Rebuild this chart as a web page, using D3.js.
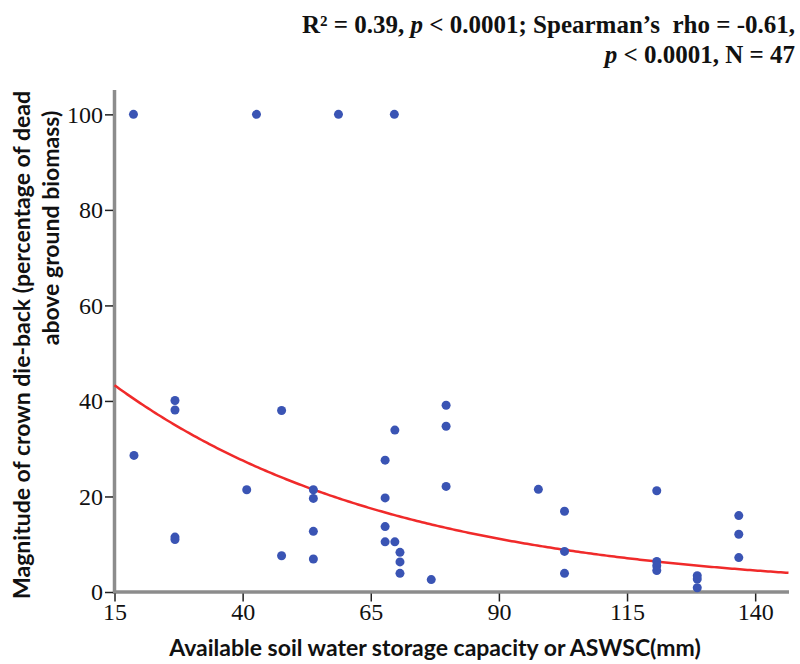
<!DOCTYPE html>
<html>
<head>
<meta charset="utf-8">
<script src="https://cdn.jsdelivr.net/npm/d3@7"></script>
<style>
  body { margin: 0; background: #fff; }
  svg { display: block; }
</style>
</head>
<body>
<svg id="chart" width="800" height="664"></svg>
<script>
// Data
const xValues = [18.7, 42.7, 58.7, 69.6,
  18.8, 26.8, 26.8, 26.8, 26.8, 47.6, 40.8, 53.8, 53.8, 53.8, 53.8, 47.6,
  79.7, 79.7, 69.7, 67.8, 67.8, 67.8, 67.8, 69.7, 70.7, 70.7, 70.7, 76.8, 79.7, 97.7,
  102.8, 102.8, 102.8, 120.8, 120.8, 120.8, 120.8, 128.7, 128.7, 128.7, 136.8, 136.8, 136.8];
const yValues = [100, 100, 100, 100,
  28.6, 40.1, 38.1, 11.5, 11.0, 38.0, 21.4, 21.4, 19.6, 12.7, 6.9, 7.6,
  39.1, 34.7, 33.9, 27.6, 19.7, 13.7, 10.5, 10.5, 8.3, 6.3, 3.9, 2.6, 22.1, 21.5,
  16.9, 8.5, 3.9, 21.2, 6.4, 5.5, 4.5, 3.4, 2.7, 0.9, 16.0, 12.1, 7.2];
const xTicks = [15, 40, 65, 90, 115, 140];
const yTicks = [0, 20, 40, 60, 80, 100];
// exponential fit y = a * exp(b * x)
const fitA = 56.8;
const fitB = -0.0181;
const fitXs = d3.range(15, 146.6, 0.5);

const svg = d3.select("#chart");
const x = d3.scaleLinear().domain([15, 146.6]).range([114.5, 789]);
const y = d3.scaleLinear().domain([0, 105.1]).range([592, 90]);

// axis lines (grey, thick)
svg.append("line").attr("x1", x(15)).attr("x2", x(15)).attr("y1", y(105.1)).attr("y2", y(0) + 2)
  .attr("stroke", "#8c8c8c").attr("stroke-width", 3.5);
svg.append("line").attr("x1", x(15) - 1.5).attr("x2", x(146.6)).attr("y1", y(0)).attr("y2", y(0))
  .attr("stroke", "#8c8c8c").attr("stroke-width", 3.5);

// axes ticks and labels
const yAxis = d3.axisLeft(y).tickValues(yTicks).tickSize(8).tickPadding(2).tickFormat(d3.format("d"));
const gy = svg.append("g").attr("transform", `translate(${x(15) - 1.5},0)`).call(yAxis);
gy.select(".domain").remove();
gy.selectAll(".tick line").attr("stroke", "#222").attr("stroke-width", 1.5);
gy.selectAll(".tick text").attr("font-family", "Liberation Serif").attr("font-size", 24).attr("fill", "#111");

const xAxis = d3.axisBottom(x).tickValues(xTicks).tickSize(8).tickPadding(1).tickFormat(d3.format("d"));
const gx = svg.append("g").attr("transform", `translate(0,${y(0) + 1.5})`).call(xAxis);
gx.select(".domain").remove();
gx.selectAll(".tick line").attr("stroke", "#222").attr("stroke-width", 1.5);
gx.selectAll(".tick text").attr("font-family", "Liberation Serif").attr("font-size", 24).attr("fill", "#111");

// fit curve
const line = d3.line().x(d => x(d)).y(d => y(fitA * Math.exp(fitB * d)));
svg.append("path").datum(fitXs).attr("d", line).attr("fill", "none")
  .attr("stroke", "#f02a2a").attr("stroke-width", 2.5);

// points
svg.append("g").selectAll("circle").data(xValues).join("circle")
  .attr("cx", d => x(d)).attr("cy", (d, i) => y(yValues[i])).attr("r", 4.5)
  .attr("fill", "#3a54b4");

// title
const title = svg.append("text").attr("font-family", "Liberation Serif").attr("font-weight", "bold")
  .attr("font-size", 25).attr("text-anchor", "end").attr("fill", "#111");
const t1 = title.append("tspan").attr("x", 795).attr("y", 33);
t1.append("tspan").text("R² = 0.39, ");
t1.append("tspan").attr("font-style", "italic").text("p");
t1.append("tspan").text(" < 0.0001; Spearman’s\u00A0 rho = -0.61,");
const t2 = title.append("tspan").attr("x", 795).attr("y", 63);
t2.append("tspan").attr("font-style", "italic").text("p");
t2.append("tspan").text(" < 0.0001, N = 47");

// axis titles
svg.append("text").attr("x", 435).attr("y", 656).attr("text-anchor", "middle")
  .attr("font-family", "Lato").attr("font-weight", "bold").attr("font-size", 23).attr("fill", "#111")
  .text("Available soil water storage capacity or ASWSC(mm)");
const yl = svg.append("text").attr("transform", "translate(30,345) rotate(-90)")
  .attr("text-anchor", "middle").attr("font-family", "Lato").attr("font-weight", "bold")
  .attr("font-size", 23).attr("fill", "#111");
yl.append("tspan").attr("x", 0).attr("y", 0).text("Magnitude of crown die-back (percentage of dead");
yl.append("tspan").attr("x", 117).attr("y", 29).text("above ground biomass)");
</script>
</body>
</html>
